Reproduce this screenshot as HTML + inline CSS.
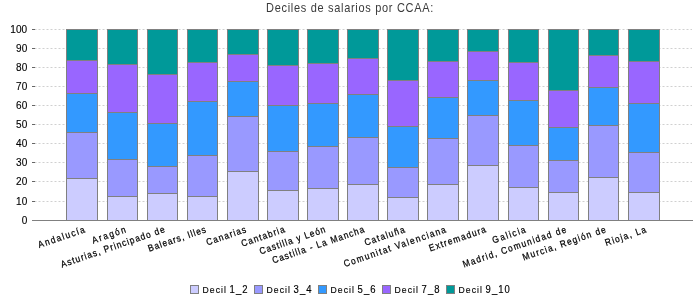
<!DOCTYPE html><html><head><meta charset="utf-8"><style>html,body{margin:0;padding:0;background:#fff;width:700px;height:300px;overflow:hidden}svg{display:block;will-change:transform;font-family:"Liberation Sans",sans-serif}</style></head><body>
<svg width="700" height="300" viewBox="0 0 700 300">
<rect width="700" height="300" fill="#fff"/>
<text transform="translate(350 12) scale(0.9 1)" x="0" y="0" text-anchor="middle" font-size="12.2" letter-spacing="0.78" fill="#3a3a3a">Deciles de salarios por CCAA:</text>
<text x="27.3" y="204.8" text-anchor="end" font-size="10" letter-spacing="0.1" fill="#000" stroke="#000" stroke-width="0.12">10</text>
<text x="27.3" y="184.8" text-anchor="end" font-size="10" letter-spacing="0.1" fill="#000" stroke="#000" stroke-width="0.12">20</text>
<text x="27.3" y="165.8" text-anchor="end" font-size="10" letter-spacing="0.1" fill="#000" stroke="#000" stroke-width="0.12">30</text>
<text x="27.3" y="146.8" text-anchor="end" font-size="10" letter-spacing="0.1" fill="#000" stroke="#000" stroke-width="0.12">40</text>
<text x="27.3" y="127.8" text-anchor="end" font-size="10" letter-spacing="0.1" fill="#000" stroke="#000" stroke-width="0.12">50</text>
<text x="27.3" y="108.8" text-anchor="end" font-size="10" letter-spacing="0.1" fill="#000" stroke="#000" stroke-width="0.12">60</text>
<text x="27.3" y="89.8" text-anchor="end" font-size="10" letter-spacing="0.1" fill="#000" stroke="#000" stroke-width="0.12">70</text>
<text x="27.3" y="70.8" text-anchor="end" font-size="10" letter-spacing="0.1" fill="#000" stroke="#000" stroke-width="0.12">80</text>
<text x="27.3" y="51.8" text-anchor="end" font-size="10" letter-spacing="0.1" fill="#000" stroke="#000" stroke-width="0.12">90</text>
<text x="27.3" y="32.8" text-anchor="end" font-size="10" letter-spacing="0.1" fill="#000" stroke="#000" stroke-width="0.12">100</text>
<g><line x1="34.5" y1="201.5" x2="692" y2="201.5" stroke="#d0d0d0" stroke-dasharray="2,2"/><line x1="34.5" y1="181.5" x2="692" y2="181.5" stroke="#d0d0d0" stroke-dasharray="2,2"/><line x1="34.5" y1="162.5" x2="692" y2="162.5" stroke="#d0d0d0" stroke-dasharray="2,2"/><line x1="34.5" y1="143.5" x2="692" y2="143.5" stroke="#d0d0d0" stroke-dasharray="2,2"/><line x1="34.5" y1="124.5" x2="692" y2="124.5" stroke="#d0d0d0" stroke-dasharray="2,2"/><line x1="34.5" y1="105.5" x2="692" y2="105.5" stroke="#d0d0d0" stroke-dasharray="2,2"/><line x1="34.5" y1="86.5" x2="692" y2="86.5" stroke="#d0d0d0" stroke-dasharray="2,2"/><line x1="34.5" y1="67.5" x2="692" y2="67.5" stroke="#d0d0d0" stroke-dasharray="2,2"/><line x1="34.5" y1="48.5" x2="692" y2="48.5" stroke="#d0d0d0" stroke-dasharray="2,2"/><line x1="34.5" y1="29.5" x2="692" y2="29.5" stroke="#d0d0d0" stroke-dasharray="2,2"/></g>
<g shape-rendering="crispEdges"><line x1="32" y1="201.5" x2="35" y2="201.5" stroke="#666"/><line x1="32" y1="181.5" x2="35" y2="181.5" stroke="#666"/><line x1="32" y1="162.5" x2="35" y2="162.5" stroke="#666"/><line x1="32" y1="143.5" x2="35" y2="143.5" stroke="#666"/><line x1="32" y1="124.5" x2="35" y2="124.5" stroke="#666"/><line x1="32" y1="105.5" x2="35" y2="105.5" stroke="#666"/><line x1="32" y1="86.5" x2="35" y2="86.5" stroke="#666"/><line x1="32" y1="67.5" x2="35" y2="67.5" stroke="#666"/><line x1="32" y1="48.5" x2="35" y2="48.5" stroke="#666"/><line x1="32" y1="29.5" x2="35" y2="29.5" stroke="#666"/></g>
<text x="27.3" y="223.8" text-anchor="end" font-size="10" letter-spacing="0.1" fill="#000" stroke="#000" stroke-width="0.12">0</text>
<g shape-rendering="crispEdges"><rect x="66" y="29" width="32" height="32" fill="#009999"/><rect x="66" y="60" width="32" height="34" fill="#9966FF"/><rect x="66" y="93" width="32" height="40" fill="#3399FF"/><rect x="66" y="132" width="32" height="47" fill="#9999FF"/><rect x="66" y="178" width="32" height="43" fill="#CCCCFF"/><rect x="66" y="29" width="32" height="1" fill="#808080"/><rect x="66" y="29" width="1" height="192" fill="#808080"/><rect x="97" y="29" width="1" height="192" fill="#808080"/><rect x="66" y="60" width="32" height="1" fill="#808080"/><rect x="66" y="93" width="32" height="1" fill="#808080"/><rect x="66" y="132" width="32" height="1" fill="#808080"/><rect x="66" y="178" width="32" height="1" fill="#808080"/><rect x="107" y="29" width="31" height="36" fill="#009999"/><rect x="107" y="64" width="31" height="49" fill="#9966FF"/><rect x="107" y="112" width="31" height="48" fill="#3399FF"/><rect x="107" y="159" width="31" height="38" fill="#9999FF"/><rect x="107" y="196" width="31" height="25" fill="#CCCCFF"/><rect x="107" y="29" width="31" height="1" fill="#808080"/><rect x="107" y="29" width="1" height="192" fill="#808080"/><rect x="137" y="29" width="1" height="192" fill="#808080"/><rect x="107" y="64" width="31" height="1" fill="#808080"/><rect x="107" y="112" width="31" height="1" fill="#808080"/><rect x="107" y="159" width="31" height="1" fill="#808080"/><rect x="107" y="196" width="31" height="1" fill="#808080"/><rect x="147" y="29" width="31" height="46" fill="#009999"/><rect x="147" y="74" width="31" height="50" fill="#9966FF"/><rect x="147" y="123" width="31" height="44" fill="#3399FF"/><rect x="147" y="166" width="31" height="28" fill="#9999FF"/><rect x="147" y="193" width="31" height="28" fill="#CCCCFF"/><rect x="147" y="29" width="31" height="1" fill="#808080"/><rect x="147" y="29" width="1" height="192" fill="#808080"/><rect x="177" y="29" width="1" height="192" fill="#808080"/><rect x="147" y="74" width="31" height="1" fill="#808080"/><rect x="147" y="123" width="31" height="1" fill="#808080"/><rect x="147" y="166" width="31" height="1" fill="#808080"/><rect x="147" y="193" width="31" height="1" fill="#808080"/><rect x="187" y="29" width="31" height="34" fill="#009999"/><rect x="187" y="62" width="31" height="40" fill="#9966FF"/><rect x="187" y="101" width="31" height="55" fill="#3399FF"/><rect x="187" y="155" width="31" height="42" fill="#9999FF"/><rect x="187" y="196" width="31" height="25" fill="#CCCCFF"/><rect x="187" y="29" width="31" height="1" fill="#808080"/><rect x="187" y="29" width="1" height="192" fill="#808080"/><rect x="217" y="29" width="1" height="192" fill="#808080"/><rect x="187" y="62" width="31" height="1" fill="#808080"/><rect x="187" y="101" width="31" height="1" fill="#808080"/><rect x="187" y="155" width="31" height="1" fill="#808080"/><rect x="187" y="196" width="31" height="1" fill="#808080"/><rect x="227" y="29" width="32" height="26" fill="#009999"/><rect x="227" y="54" width="32" height="28" fill="#9966FF"/><rect x="227" y="81" width="32" height="36" fill="#3399FF"/><rect x="227" y="116" width="32" height="56" fill="#9999FF"/><rect x="227" y="171" width="32" height="50" fill="#CCCCFF"/><rect x="227" y="29" width="32" height="1" fill="#808080"/><rect x="227" y="29" width="1" height="192" fill="#808080"/><rect x="258" y="29" width="1" height="192" fill="#808080"/><rect x="227" y="54" width="32" height="1" fill="#808080"/><rect x="227" y="81" width="32" height="1" fill="#808080"/><rect x="227" y="116" width="32" height="1" fill="#808080"/><rect x="227" y="171" width="32" height="1" fill="#808080"/><rect x="267" y="29" width="32" height="37" fill="#009999"/><rect x="267" y="65" width="32" height="41" fill="#9966FF"/><rect x="267" y="105" width="32" height="47" fill="#3399FF"/><rect x="267" y="151" width="32" height="40" fill="#9999FF"/><rect x="267" y="190" width="32" height="31" fill="#CCCCFF"/><rect x="267" y="29" width="32" height="1" fill="#808080"/><rect x="267" y="29" width="1" height="192" fill="#808080"/><rect x="298" y="29" width="1" height="192" fill="#808080"/><rect x="267" y="65" width="32" height="1" fill="#808080"/><rect x="267" y="105" width="32" height="1" fill="#808080"/><rect x="267" y="151" width="32" height="1" fill="#808080"/><rect x="267" y="190" width="32" height="1" fill="#808080"/><rect x="307" y="29" width="32" height="35" fill="#009999"/><rect x="307" y="63" width="32" height="41" fill="#9966FF"/><rect x="307" y="103" width="32" height="44" fill="#3399FF"/><rect x="307" y="146" width="32" height="43" fill="#9999FF"/><rect x="307" y="188" width="32" height="33" fill="#CCCCFF"/><rect x="307" y="29" width="32" height="1" fill="#808080"/><rect x="307" y="29" width="1" height="192" fill="#808080"/><rect x="338" y="29" width="1" height="192" fill="#808080"/><rect x="307" y="63" width="32" height="1" fill="#808080"/><rect x="307" y="103" width="32" height="1" fill="#808080"/><rect x="307" y="146" width="32" height="1" fill="#808080"/><rect x="307" y="188" width="32" height="1" fill="#808080"/><rect x="347" y="29" width="32" height="30" fill="#009999"/><rect x="347" y="58" width="32" height="37" fill="#9966FF"/><rect x="347" y="94" width="32" height="44" fill="#3399FF"/><rect x="347" y="137" width="32" height="48" fill="#9999FF"/><rect x="347" y="184" width="32" height="37" fill="#CCCCFF"/><rect x="347" y="29" width="32" height="1" fill="#808080"/><rect x="347" y="29" width="1" height="192" fill="#808080"/><rect x="378" y="29" width="1" height="192" fill="#808080"/><rect x="347" y="58" width="32" height="1" fill="#808080"/><rect x="347" y="94" width="32" height="1" fill="#808080"/><rect x="347" y="137" width="32" height="1" fill="#808080"/><rect x="347" y="184" width="32" height="1" fill="#808080"/><rect x="387" y="29" width="32" height="52" fill="#009999"/><rect x="387" y="80" width="32" height="47" fill="#9966FF"/><rect x="387" y="126" width="32" height="42" fill="#3399FF"/><rect x="387" y="167" width="32" height="31" fill="#9999FF"/><rect x="387" y="197" width="32" height="24" fill="#CCCCFF"/><rect x="387" y="29" width="32" height="1" fill="#808080"/><rect x="387" y="29" width="1" height="192" fill="#808080"/><rect x="418" y="29" width="1" height="192" fill="#808080"/><rect x="387" y="80" width="32" height="1" fill="#808080"/><rect x="387" y="126" width="32" height="1" fill="#808080"/><rect x="387" y="167" width="32" height="1" fill="#808080"/><rect x="387" y="197" width="32" height="1" fill="#808080"/><rect x="427" y="29" width="32" height="33" fill="#009999"/><rect x="427" y="61" width="32" height="37" fill="#9966FF"/><rect x="427" y="97" width="32" height="42" fill="#3399FF"/><rect x="427" y="138" width="32" height="47" fill="#9999FF"/><rect x="427" y="184" width="32" height="37" fill="#CCCCFF"/><rect x="427" y="29" width="32" height="1" fill="#808080"/><rect x="427" y="29" width="1" height="192" fill="#808080"/><rect x="458" y="29" width="1" height="192" fill="#808080"/><rect x="427" y="61" width="32" height="1" fill="#808080"/><rect x="427" y="97" width="32" height="1" fill="#808080"/><rect x="427" y="138" width="32" height="1" fill="#808080"/><rect x="427" y="184" width="32" height="1" fill="#808080"/><rect x="467" y="29" width="32" height="23" fill="#009999"/><rect x="467" y="51" width="32" height="30" fill="#9966FF"/><rect x="467" y="80" width="32" height="36" fill="#3399FF"/><rect x="467" y="115" width="32" height="51" fill="#9999FF"/><rect x="467" y="165" width="32" height="56" fill="#CCCCFF"/><rect x="467" y="29" width="32" height="1" fill="#808080"/><rect x="467" y="29" width="1" height="192" fill="#808080"/><rect x="498" y="29" width="1" height="192" fill="#808080"/><rect x="467" y="51" width="32" height="1" fill="#808080"/><rect x="467" y="80" width="32" height="1" fill="#808080"/><rect x="467" y="115" width="32" height="1" fill="#808080"/><rect x="467" y="165" width="32" height="1" fill="#808080"/><rect x="508" y="29" width="31" height="34" fill="#009999"/><rect x="508" y="62" width="31" height="39" fill="#9966FF"/><rect x="508" y="100" width="31" height="46" fill="#3399FF"/><rect x="508" y="145" width="31" height="43" fill="#9999FF"/><rect x="508" y="187" width="31" height="34" fill="#CCCCFF"/><rect x="508" y="29" width="31" height="1" fill="#808080"/><rect x="508" y="29" width="1" height="192" fill="#808080"/><rect x="538" y="29" width="1" height="192" fill="#808080"/><rect x="508" y="62" width="31" height="1" fill="#808080"/><rect x="508" y="100" width="31" height="1" fill="#808080"/><rect x="508" y="145" width="31" height="1" fill="#808080"/><rect x="508" y="187" width="31" height="1" fill="#808080"/><rect x="548" y="29" width="31" height="62" fill="#009999"/><rect x="548" y="90" width="31" height="38" fill="#9966FF"/><rect x="548" y="127" width="31" height="34" fill="#3399FF"/><rect x="548" y="160" width="31" height="33" fill="#9999FF"/><rect x="548" y="192" width="31" height="29" fill="#CCCCFF"/><rect x="548" y="29" width="31" height="1" fill="#808080"/><rect x="548" y="29" width="1" height="192" fill="#808080"/><rect x="578" y="29" width="1" height="192" fill="#808080"/><rect x="548" y="90" width="31" height="1" fill="#808080"/><rect x="548" y="127" width="31" height="1" fill="#808080"/><rect x="548" y="160" width="31" height="1" fill="#808080"/><rect x="548" y="192" width="31" height="1" fill="#808080"/><rect x="588" y="29" width="31" height="27" fill="#009999"/><rect x="588" y="55" width="31" height="33" fill="#9966FF"/><rect x="588" y="87" width="31" height="39" fill="#3399FF"/><rect x="588" y="125" width="31" height="53" fill="#9999FF"/><rect x="588" y="177" width="31" height="44" fill="#CCCCFF"/><rect x="588" y="29" width="31" height="1" fill="#808080"/><rect x="588" y="29" width="1" height="192" fill="#808080"/><rect x="618" y="29" width="1" height="192" fill="#808080"/><rect x="588" y="55" width="31" height="1" fill="#808080"/><rect x="588" y="87" width="31" height="1" fill="#808080"/><rect x="588" y="125" width="31" height="1" fill="#808080"/><rect x="588" y="177" width="31" height="1" fill="#808080"/><rect x="628" y="29" width="32" height="33" fill="#009999"/><rect x="628" y="61" width="32" height="43" fill="#9966FF"/><rect x="628" y="103" width="32" height="50" fill="#3399FF"/><rect x="628" y="152" width="32" height="41" fill="#9999FF"/><rect x="628" y="192" width="32" height="29" fill="#CCCCFF"/><rect x="628" y="29" width="32" height="1" fill="#808080"/><rect x="628" y="29" width="1" height="192" fill="#808080"/><rect x="659" y="29" width="1" height="192" fill="#808080"/><rect x="628" y="61" width="32" height="1" fill="#808080"/><rect x="628" y="103" width="32" height="1" fill="#808080"/><rect x="628" y="152" width="32" height="1" fill="#808080"/><rect x="628" y="192" width="32" height="1" fill="#808080"/></g>
<rect x="32" y="220" width="661" height="1" fill="#808080" shape-rendering="crispEdges"/>
<text transform="translate(84.62 225.1) rotate(-19) translate(0 7) scale(0.88 1)" x="0" y="0" text-anchor="end" font-size="9.5" letter-spacing="1.663" fill="#000" stroke="#000" stroke-width="0.25">Andalucía</text>
<text transform="translate(125.67 225.1) rotate(-19) translate(0 7) scale(0.88 1)" x="0" y="0" text-anchor="end" font-size="9.5" letter-spacing="1.832" fill="#000" stroke="#000" stroke-width="0.25">Aragón</text>
<text transform="translate(164.13 225.1) rotate(-19) translate(0 7) scale(0.88 1)" x="0" y="0" text-anchor="end" font-size="9.5" letter-spacing="1.208" fill="#000" stroke="#000" stroke-width="0.25">Asturias, Principado de</text>
<text transform="translate(205.03 225.1) rotate(-19) translate(0 7) scale(0.88 1)" x="0" y="0" text-anchor="end" font-size="9.5" letter-spacing="1.097" fill="#000" stroke="#000" stroke-width="0.25">Balears, Illes</text>
<text transform="translate(245.50 225.1) rotate(-19) translate(0 7) scale(0.88 1)" x="0" y="0" text-anchor="end" font-size="9.5" letter-spacing="1.298" fill="#000" stroke="#000" stroke-width="0.25">Canarias</text>
<text transform="translate(284.08 225.1) rotate(-19) translate(0 7) scale(0.88 1)" x="0" y="0" text-anchor="end" font-size="9.5" letter-spacing="1.274" fill="#000" stroke="#000" stroke-width="0.25">Cantabria</text>
<text transform="translate(324.57 225.1) rotate(-19) translate(0 7) scale(0.88 1)" x="0" y="0" text-anchor="end" font-size="9.5" letter-spacing="1.147" fill="#000" stroke="#000" stroke-width="0.25">Castilla y León</text>
<text transform="translate(363.65 225.1) rotate(-19) translate(0 7) scale(0.88 1)" x="0" y="0" text-anchor="end" font-size="9.5" letter-spacing="1.234" fill="#000" stroke="#000" stroke-width="0.25">Castilla - La Mancha</text>
<text transform="translate(404.17 225.1) rotate(-19) translate(0 7) scale(0.88 1)" x="0" y="0" text-anchor="end" font-size="9.5" letter-spacing="1.372" fill="#000" stroke="#000" stroke-width="0.25">Cataluña</text>
<text transform="translate(445.54 225.1) rotate(-19) translate(0 7) scale(0.88 1)" x="0" y="0" text-anchor="end" font-size="9.5" letter-spacing="1.565" fill="#000" stroke="#000" stroke-width="0.25">Comunitat Valenciana</text>
<text transform="translate(485.32 225.1) rotate(-19) translate(0 7) scale(0.88 1)" x="0" y="0" text-anchor="end" font-size="9.5" letter-spacing="1.318" fill="#000" stroke="#000" stroke-width="0.25">Extremadura</text>
<text transform="translate(525.35 225.1) rotate(-19) translate(0 7) scale(0.88 1)" x="0" y="0" text-anchor="end" font-size="9.5" letter-spacing="1.697" fill="#000" stroke="#000" stroke-width="0.25">Galicia</text>
<text transform="translate(565.74 225.1) rotate(-19) translate(0 7) scale(0.88 1)" x="0" y="0" text-anchor="end" font-size="9.5" letter-spacing="1.455" fill="#000" stroke="#000" stroke-width="0.25">Madrid, Comunidad de</text>
<text transform="translate(605.28 225.1) rotate(-19) translate(0 7) scale(0.88 1)" x="0" y="0" text-anchor="end" font-size="9.5" letter-spacing="1.386" fill="#000" stroke="#000" stroke-width="0.25">Murcia, Región de</text>
<text transform="translate(645.58 225.1) rotate(-19) translate(0 7) scale(0.88 1)" x="0" y="0" text-anchor="end" font-size="9.5" letter-spacing="1.386" fill="#000" stroke="#000" stroke-width="0.25">Rioja, La</text>
<rect x="190.5" y="285.5" width="8" height="8" fill="#CCCCFF" stroke="#808080"/>
<text transform="translate(202.4 292.8) scale(0.88 1)" x="0" y="0" font-size="9.8" letter-spacing="1.273" fill="#000" stroke="#000" stroke-width="0.15">Decil</text>
<text transform="translate(229.6 292.8) scale(0.95 1)" x="0" y="0" font-size="10.0" letter-spacing="1.053" fill="#000" stroke="#000" stroke-width="0.15">1_2</text>
<rect x="254.5" y="285.5" width="8" height="8" fill="#9999FF" stroke="#808080"/>
<text transform="translate(266.4 292.8) scale(0.88 1)" x="0" y="0" font-size="9.8" letter-spacing="1.273" fill="#000" stroke="#000" stroke-width="0.15">Decil</text>
<text transform="translate(293.6 292.8) scale(0.95 1)" x="0" y="0" font-size="10.0" letter-spacing="1.053" fill="#000" stroke="#000" stroke-width="0.15">3_4</text>
<rect x="318.5" y="285.5" width="8" height="8" fill="#3399FF" stroke="#808080"/>
<text transform="translate(330.4 292.8) scale(0.88 1)" x="0" y="0" font-size="9.8" letter-spacing="1.273" fill="#000" stroke="#000" stroke-width="0.15">Decil</text>
<text transform="translate(357.6 292.8) scale(0.95 1)" x="0" y="0" font-size="10.0" letter-spacing="1.053" fill="#000" stroke="#000" stroke-width="0.15">5_6</text>
<rect x="382.5" y="285.5" width="8" height="8" fill="#9966FF" stroke="#808080"/>
<text transform="translate(394.4 292.8) scale(0.88 1)" x="0" y="0" font-size="9.8" letter-spacing="1.273" fill="#000" stroke="#000" stroke-width="0.15">Decil</text>
<text transform="translate(421.6 292.8) scale(0.95 1)" x="0" y="0" font-size="10.0" letter-spacing="1.053" fill="#000" stroke="#000" stroke-width="0.15">7_8</text>
<rect x="446.5" y="285.5" width="8" height="8" fill="#009999" stroke="#808080"/>
<text transform="translate(458.4 292.8) scale(0.88 1)" x="0" y="0" font-size="9.8" letter-spacing="1.273" fill="#000" stroke="#000" stroke-width="0.15">Decil</text>
<text transform="translate(485.6 292.8) scale(0.95 1)" x="0" y="0" font-size="10.0" letter-spacing="1.053" fill="#000" stroke="#000" stroke-width="0.15">9_10</text>
</svg></body></html>
